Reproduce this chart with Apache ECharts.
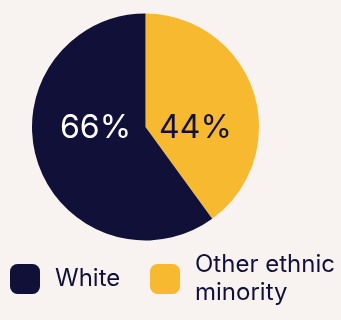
<!DOCTYPE html>
<html>
<head>
<meta charset="utf-8">
<script src="https://cdn.jsdelivr.net/npm/echarts@6/dist/echarts.min.js"></script>
<style>
  html, body { margin: 0; padding: 0; background: #f8f3f0; }
  #chart { width: 341px; height: 320px; }
</style>
</head>
<body>
<div id="chart"></div>
<script>
// Ethnicity split
const categories = ['Other ethnic minority', 'White'];
const values = [44, 66];
const colors = ['#f6b92f', '#111038'];
const labelColors = ['#111038', '#ffffff'];

const NAVY = '#111038';
const FONT = 'Inter, "Noto Sans", sans-serif';

const cx = 145.5, cy = 127, r = 113.5;

const chart = echarts.init(document.getElementById('chart'));
chart.setOption({
  backgroundColor: '#f8f3f0',
  animation: false,
  legend: [
    {
      data: [categories[1]],
      left: 10, top: 264, padding: 0,
      icon: 'roundRect', itemWidth: 30, itemHeight: 30,
      selectedMode: false,
      textStyle: { color: NAVY, fontSize: 24, fontFamily: FONT, padding: [0, 0, 0, 10] }
    },
    {
      data: [categories[0]],
      left: 150, top: 237, padding: 0,
      icon: 'roundRect', itemWidth: 30, itemHeight: 30,
      selectedMode: false,
      // wrap the long label after "ethnic"
      formatter: name => name.replace('ethnic ', 'ethnic\n'),
      textStyle: {
        color: NAVY, fontSize: 24, fontFamily: FONT, lineHeight: 28,
        padding: [28, 0, 0, 10]
      }
    }
  ],
  series: [{
    type: 'pie',
    center: [cx, cy],
    radius: r,
    startAngle: 90,
    clockwise: true,
    data: categories.map((name, i) => ({
      name, value: values[i],
      itemStyle: { color: colors[i] },
      label: { color: labelColors[i] }
    })),
    label: {
      show: true,
      position: 'inside',
      formatter: '{c}%',
      fontSize: 32,
      fontFamily: FONT,
      align: 'center',
      verticalAlign: 'middle'
    },
    labelLine: { show: false },
    labelLayout: function (params) {
      const side = params.dataIndex === 0 ? 1 : -1;
      return { x: cx + side * 50, y: cy + 1.5, align: 'center', verticalAlign: 'middle' };
    },
    emphasis: { disabled: true }
  }]
});
</script>
</body>
</html>
